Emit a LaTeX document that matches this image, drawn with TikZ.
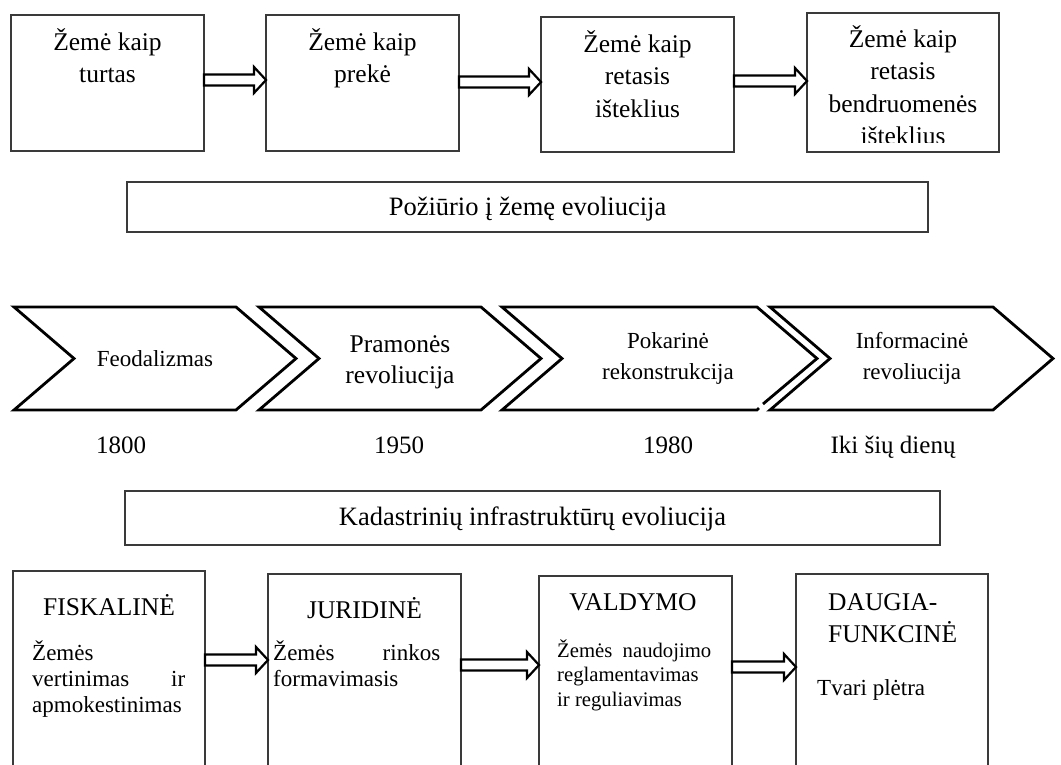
\documentclass[tikz,border=0pt]{standalone}
\usepackage{fontspec}
\setmainfont{Liberation Serif}
\usetikzlibrary{calc}
\definecolor{boxgray}{HTML}{3A3A3A}
\newcommand\FA{\fontsize{25.5pt}{32.5pt}\selectfont}
\newcommand\FB{\fontsize{23pt}{26pt}\selectfont}
\newcommand\FC{\fontsize{20.7pt}{24.5pt}\selectfont}
\newcommand\FD{\fontsize{26.5pt}{31pt}\selectfont}
\newcommand\FE{\fontsize{25.5pt}{31pt}\selectfont}
\newcommand\FF{\fontsize{23pt}{31pt}\selectfont}
\newcommand\FY{\fontsize{25pt}{30pt}\selectfont}
\newcommand\MLc[1]{\begin{tabular}[t]{@{}c@{}}#1\end{tabular}}
\newcommand\MLl[1]{\begin{tabular}[t]{@{}l@{}}#1\end{tabular}}
\newcommand\barrow[3]{%
 \draw[arrowline] ($(#1.east |- #3)+(0,-5.5)$) -- ($(#2.west |- #3)+(-12,-5.5)$)
   -- ($(#2.west |- #3)+(-12,-13)$) -- (#2.west |- #3) -- ($(#2.west |- #3)+(-12,13)$)
   -- ($(#2.west |- #3)+(-12,5.5)$) -- ($(#1.east |- #3)+(0,5.5)$) -- cycle;}
\begin{document}
\begin{tikzpicture}[x=1pt,y=-1pt,
 box/.style={draw=boxgray, line width=1.3pt, inner sep=0pt, outer sep=0pt},
 arrowline/.style={draw=black, fill=white, line width=2.2pt, line join=miter},
 chev/.style={draw=black, line width=2.8pt, line join=miter},
 lbl/.style={inner sep=0pt, anchor=base},
 lbll/.style={inner sep=0pt, anchor=base west}]
\useasboundingbox (0,0) rectangle (1061,764);
\clip (0,0) rectangle (1061,764);

% ---------- top row ----------
\node[box, minimum width=193, minimum height=136] (t1) at (107.5,83) {};
\node[box, minimum width=193, minimum height=136] (t2) at (362.5,83) {};
\node[box, minimum width=193, minimum height=135] (t3) at (637.5,84.5) {};
\node[box, minimum width=192, minimum height=139] (t4) at (903,82.5) {};
\node[lbl, font=\FA] (t1txt) at (107.5,50) {\MLc{Žemė kaip\\turtas}};
\node[lbl, font=\FA] (t2txt) at (362.5,50) {\MLc{Žemė kaip\\prekė}};
\node[lbl, font=\FA] (t3txt) at (637.5,52) {\MLc{Žemė kaip\\retasis\\išteklius}};
\begin{scope}
\clip (807,13) rectangle (999,142);
\node[lbl, font=\FA] (t4txt) at (903,47) {\MLc{Žemė kaip\\retasis\\bendruomenės\\išteklius}};
\end{scope}
\coordinate (ya) at (0,80);
\coordinate (yb) at (0,82);
\coordinate (yc) at (0,81);
\barrow{t1}{t2}{ya}
\barrow{t2}{t3}{yb}
\barrow{t3}{t4}{yc}

% ---------- middle box 1 ----------
\node[box, line width=1.5pt, minimum width=801, minimum height=50] (m1) at (527.5,207) {};
\node[lbl, font=\FD] (m1txt) at (527.5,215) {Požiūrio į žemę evoliucija};

% ---------- chevrons ----------
\draw[chev] (14,307) -- (236,307) -- (296,358.5) -- (236,410) -- (14,410) -- (74,358.5) -- cycle;
\draw[chev] (259,307) -- (481,307) -- (541,358.5) -- (481,410) -- (259,410) -- (319,358.5) -- cycle;
\draw[chev] (763,404) -- (817,358.5) -- (757,307) -- (502,307) -- (562,358.5) -- (502,410) -- (757,410) -- (759,408);
\draw[chev] (770,307) -- (993,307) -- (1053,358.5) -- (993,410) -- (770,410) -- (830,358.5) -- cycle;
\node[lbl, font=\FF] (c1txt) at (155,366) {Feodalizmas};
\node[lbl, font=\FE] (c2txt) at (400,352) {\MLc{Pramonės\\revoliucija}};
\node[lbl, font=\FF] (c3txt) at (668,348) {\MLc{Pokarinė\\rekonstrukcija}};
\node[lbl, font=\FF] (c4txt) at (912,348) {\MLc{Informacinė\\revoliucija}};

% ---------- years ----------
\node[lbl, font=\FY] (y1) at (121,453) {1800};
\node[lbl, font=\FY] (y2) at (399,453) {1950};
\node[lbl, font=\FY] (y3) at (668,453) {1980};
\node[lbl, font=\FY] (y4) at (893,453) {Iki šių dienų};

% ---------- middle box 2 ----------
\node[box, line width=1.5pt, minimum width=815, minimum height=54] (m2) at (532.5,518) {};
\node[lbl, font=\FD] (m2txt) at (532.5,525) {Kadastrinių infrastruktūrų evoliucija};

% ---------- bottom row ----------
\node[box, minimum width=192, minimum height=250] (b1) at (109,696) {};
\node[box, minimum width=193, minimum height=250] (b2) at (364.5,699) {};
\node[box, minimum width=193, minimum height=250] (b3) at (635.5,701) {};
\node[box, minimum width=192, minimum height=250] (b4) at (892,699) {};
\node[lbl, font=\FA] (b1h) at (109,615) {FISKALINĖ};
\node[lbl, font=\FA] (b2h) at (364.5,618) {JURIDINĖ};
\node[lbl, font=\FA] (b3h) at (633,610) {VALDYMO};
\node[lbll, font=\FA] (b4h) at (828,610) {\MLl{DAUGIA-\\FUNKCINĖ}};
\node[lbll, font=\FB] (b1b) at (32,660) {\MLl{Žemės\\\makebox[153pt][s]{vertinimas ir}\\apmokestinimas}};
\node[lbll, font=\FB] (b2b) at (273,660) {\MLl{\makebox[167pt][s]{Žemės rinkos}\\formavimasis}};
\node[lbll, font=\FC] (b3b) at (557,657) {\MLl{Žemės\ \ naudojimo\\reglamentavimas\\ir reguliavimas}};
\node[lbll, font=\FB] (b4b) at (817,695) {Tvari plėtra};
\coordinate (yd) at (0,660);
\coordinate (ye) at (0,665);
\coordinate (yf) at (0,667);
\barrow{b1}{b2}{yd}
\barrow{b2}{b3}{ye}
\barrow{b3}{b4}{yf}
\end{tikzpicture}
\end{document}
